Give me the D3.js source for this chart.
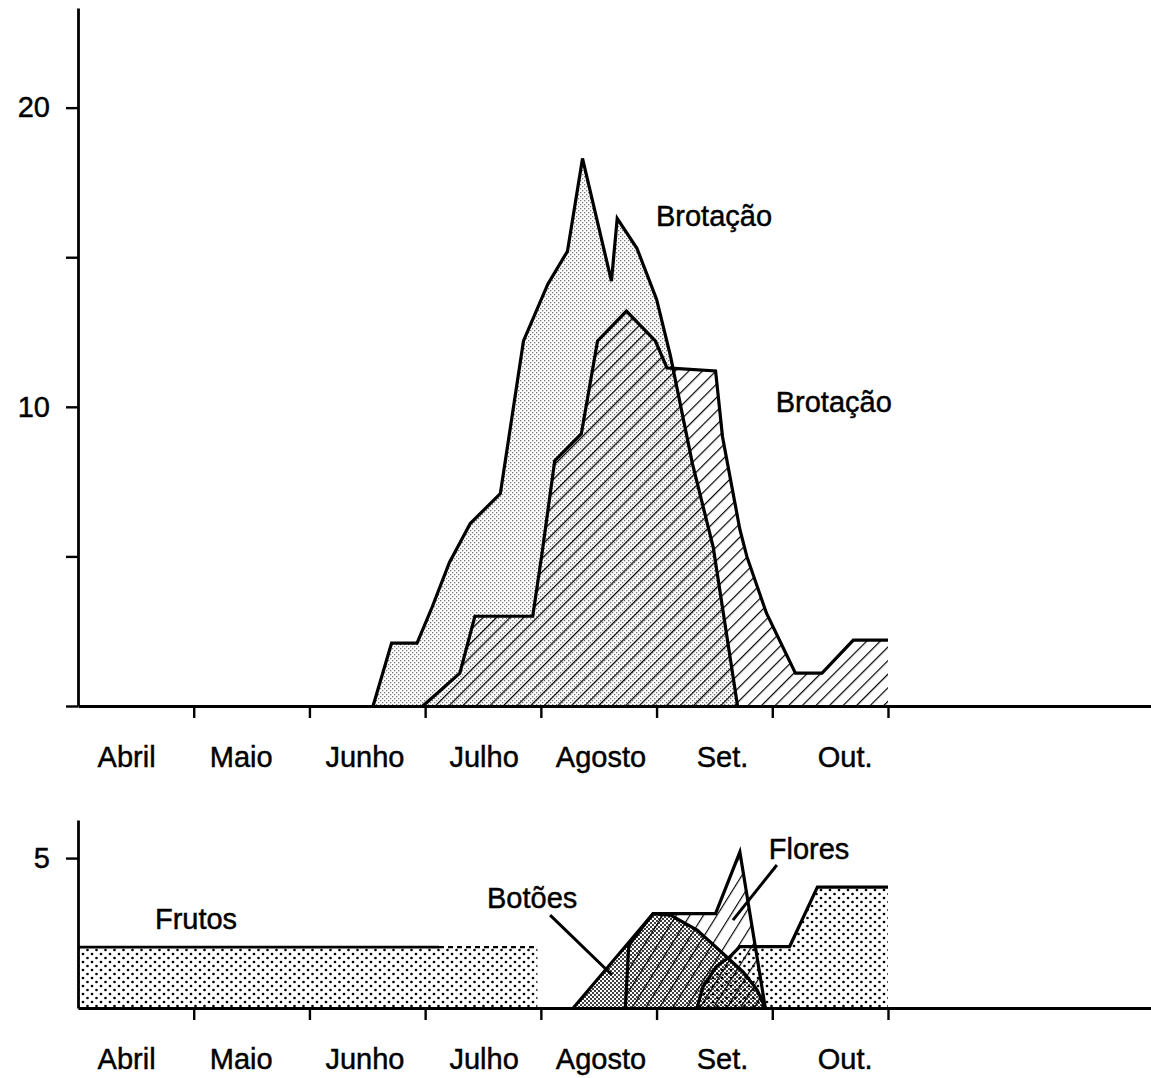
<!DOCTYPE html>
<html><head><meta charset="utf-8">
<script src="https://cdn.jsdelivr.net/npm/d3@7"></script>
<style>
body{margin:0;background:#fff}
text{font-family:"Liberation Sans",Arial,Helvetica,sans-serif;fill:#000;stroke:#000;stroke-width:0.45px}
</style></head>
<body><svg id="c" width="1151" height="1078"></svg>
<script>
// ---- data (x in months since 1 April, y in counts) ----
const months = ["Abril","Maio","Junho","Julho","Agosto","Set.","Out."];
const monthLabelAt = [0.42,1.41,2.48,3.51,4.52,5.57,6.63];
const monthTicks = [1,2,3,4,5,6,7];
const topYTicks = [0,5,10,15,20];
const topYLabels = {10:"10",20:"20"};
const botYTicks = [5];

const brot1X = [2.55,2.71,2.93,3.06,3.21,3.39,3.65,3.85,4.06,4.23,4.36,4.61,4.66,4.83,5.00,5.12,5.31,5.49,5.70];
const brot1Y = [0,2.1,2.1,3.3,4.8,6.1,7.1,12.2,14.1,15.2,18.3,14.2,16.3,15.3,13.6,11.7,8.1,5.3,0];

const brot2X = [2.98,3.30,3.43,3.93,4.01,4.12,4.35,4.49,4.74,4.99,5.09,5.51,5.57,5.72,5.78,5.95,6.20,6.43,6.70,7.00];
const brot2Y = [0,1.1,3.0,3.0,5.1,8.2,9.1,12.2,13.2,12.2,11.3,11.2,9.0,5.9,5.0,3.1,1.1,1.1,2.2,2.2];

const frut1X = [0,3.97];
const frut1Y = [2.03,2.03];
const frut1SolidEnd = 3.12;
const frut2X = [5.35,5.40,5.52,5.63,5.72,6.15,6.39,7.00];
const frut2Y = [0,0.7,1.4,1.7,2.05,2.05,4.03,4.03];

const botX = [4.28,4.97,5.12,5.35,5.55,5.75,5.87,5.94];
const botY = [0,3.15,3.1,2.6,1.9,1.2,0.6,0];

const florX = [4.73,4.76,4.97,5.51,5.72,5.94];
const florY = [0,2.1,3.15,3.15,5.2,0];

const labels = [
  {t:"Brotação", x:4.995, y:16.05, panel:"top"},
  {t:"Brotação", x:6.03, y:9.83, panel:"top"},
  {t:"Frutos", x:0.665, y:2.65, panel:"bot"},
  {t:"Botões", x:3.535, y:3.32, panel:"bot"},
  {t:"Flores", x:5.97, y:4.98, panel:"bot"}
];
const pointers = [
  {x1:4.08,y1:3.1,x2:4.615,y2:1.1},
  {x1:6.04,y1:4.77,x2:5.66,y2:2.93}
];

// ---- scales ----
const svg = d3.select("#c");
const x = d3.scaleLinear().domain([0,9.273]).range([78,1151]);
const yT = d3.scaleLinear().domain([0,23.33]).range([706,8]);
const yB = d3.scaleLinear().domain([0,6.27]).range([1008,820]);

// ---- patterns ----
const defs = svg.append("defs");
const pStip = defs.append("pattern").attr("id","stip").attr("patternUnits","userSpaceOnUse").attr("width",4).attr("height",4);
pStip.append("rect").attr("x",0).attr("y",0).attr("width",1.3).attr("height",1.3).attr("fill","#777");
pStip.append("rect").attr("x",2).attr("y",2).attr("width",1.3).attr("height",1.3).attr("fill","#777");

const pHatch = defs.append("pattern").attr("id","hatch").attr("patternUnits","userSpaceOnUse")
  .attr("width",9.6).attr("height",10).attr("patternTransform","rotate(45)");
pHatch.append("line").attr("x1",0).attr("y1",-1).attr("x2",0).attr("y2",11).attr("stroke","#000").attr("stroke-width",2.4);

const pHatch2 = defs.append("pattern").attr("id","hatch2").attr("patternUnits","userSpaceOnUse")
  .attr("width",11.5).attr("height",10).attr("patternTransform","rotate(32)");
pHatch2.append("line").attr("x1",0).attr("y1",-1).attr("x2",0).attr("y2",11).attr("stroke","#000").attr("stroke-width",2.3);

const pFrut = defs.append("pattern").attr("id","frut").attr("patternUnits","userSpaceOnUse").attr("width",9).attr("height",8);
pFrut.append("circle").attr("cx",2).attr("cy",2).attr("r",1.35).attr("fill","#000");
pFrut.append("circle").attr("cx",6.5).attr("cy",6).attr("r",1.35).attr("fill","#000");

const pBot = defs.append("pattern").attr("id","bot").attr("patternUnits","userSpaceOnUse").attr("width",4).attr("height",4);
pBot.append("circle").attr("cx",1).attr("cy",1).attr("r",1.0).attr("fill","#000");
pBot.append("circle").attr("cx",3).attr("cy",3).attr("r",1.0).attr("fill","#000");

function zip(xs,ys){return xs.map((v,i)=>[v,ys[i]]);}

// ---- top panel ----
const areaT = d3.area().x(d=>x(d[0])).y0(yT(0)).y1(d=>yT(d[1]));
const lineT = d3.line().x(d=>x(d[0])).y(d=>yT(d[1]));
const b1 = zip(brot1X,brot1Y), b2 = zip(brot2X,brot2Y);
svg.append("path").attr("d",areaT(b1)).attr("fill","url(#stip)");
svg.append("path").attr("d",areaT(b2)).attr("fill","url(#hatch)");
svg.append("path").attr("d",lineT(b1)).attr("fill","none").attr("stroke","#000").attr("stroke-width",3.2).attr("stroke-linejoin","miter");
svg.append("path").attr("d",lineT(b2)).attr("fill","none").attr("stroke","#000").attr("stroke-width",3.2).attr("stroke-linejoin","miter");

// ---- bottom panel ----
const areaB = d3.area().x(d=>x(d[0])).y0(yB(0)).y1(d=>yB(d[1]));
const lineB = d3.line().x(d=>x(d[0])).y(d=>yB(d[1]));
const f1 = zip(frut1X,frut1Y), f2 = zip(frut2X,frut2Y), bo = zip(botX,botY), fl = zip(florX,florY);
svg.append("path").attr("d",areaB(f1)).attr("fill","url(#frut)");
svg.append("path").attr("d",areaB(f2)).attr("fill","url(#frut)");
svg.append("path").attr("d",areaB(bo)).attr("fill","url(#bot)");
svg.append("path").attr("d",areaB(fl)).attr("fill","url(#hatch2)");
svg.append("path").attr("d",lineB([[frut1X[0],frut1Y[0]],[frut1SolidEnd,frut1Y[0]]])).attr("fill","none").attr("stroke","#000").attr("stroke-width",2.6);
svg.append("path").attr("d",lineB([[frut1SolidEnd,frut1Y[0]],[frut1X[1],frut1Y[1]]])).attr("fill","none").attr("stroke","#000").attr("stroke-width",2.2).attr("stroke-dasharray","5,4");
[f2,bo,fl].forEach(s=>{
  svg.append("path").attr("d",lineB(s)).attr("fill","none").attr("stroke","#000").attr("stroke-width",3.2).attr("stroke-linejoin","miter");
});

// pointers
pointers.forEach((p,i)=>{
  svg.append("line").attr("x1",x(p.x1)).attr("y1",yB(p.y1)).attr("x2",x(p.x2)).attr("y2",yB(p.y2))
    .attr("stroke","#000").attr("stroke-width",3);
});

// ---- axes ----
function styleAxis(g){
  g.select(".domain").attr("stroke","#000").attr("stroke-width",2.8);
  g.selectAll(".tick line").attr("stroke","#000").attr("stroke-width",2.4);
  g.selectAll(".tick text").style("font-size","29px").style("font-family","'Liberation Sans',Arial,sans-serif").attr("fill","#000");
}
svg.append("g").attr("transform",`translate(0,${yT(0)})`)
  .call(d3.axisBottom(x).tickValues(monthTicks).tickSize(12).tickSizeOuter(0).tickFormat(""))
  .call(styleAxis);
svg.append("g").attr("transform",`translate(0,${yB(0)})`)
  .call(d3.axisBottom(x).tickValues(monthTicks).tickSize(12).tickSizeOuter(0).tickFormat(""))
  .call(styleAxis);
svg.append("g").attr("transform",`translate(${x(0)},0)`)
  .call(d3.axisLeft(yT).tickValues(topYTicks).tickSize(12).tickSizeOuter(0).tickPadding(16).tickFormat(d=>topYLabels[d]||""))
  .call(styleAxis);
svg.append("g").attr("transform",`translate(${x(0)},0)`)
  .call(d3.axisLeft(yB).tickValues(botYTicks).tickSize(12).tickSizeOuter(0).tickPadding(16).tickFormat(d=>String(d)))
  .call(styleAxis);

// month labels
[yT(0)+61, yB(0)+61].forEach(by=>{
  svg.append("g").selectAll("text").data(months).join("text")
    .attr("x",(d,i)=>x(monthLabelAt[i])).attr("y",by)
    .attr("text-anchor","middle").style("font-size","29px").text(d=>d);
});

// series labels
labels.forEach(l=>{
  const yy = l.panel==="top"? yT(l.y) : yB(l.y);
  svg.append("text").attr("x",x(l.x)).attr("y",yy).style("font-size","29px").text(l.t);
});
</script></body></html>
